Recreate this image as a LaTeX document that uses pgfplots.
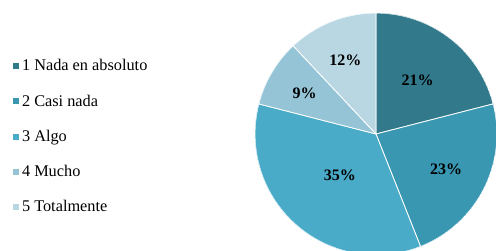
\documentclass[border=0pt]{standalone}
\usepackage{fontspec}
\setmainfont{Liberation Serif}
\usepackage{pgfplots}
\pgfplotsset{compat=1.18}
\usepgfplotslibrary{polar}
\definecolor{cA}{HTML}{32798C}
\definecolor{cB}{HTML}{3A97B2}
\definecolor{cC}{HTML}{4AABC9}
\definecolor{cD}{HTML}{94C4D6}
\definecolor{cE}{HTML}{B9D7E3}
\begin{document}
\begin{tikzpicture}
\useasboundingbox (0pt,0pt) rectangle (496pt,251pt);
% slices: 21, 23, 35, 9, 12 percent, clockwise from the top (1 percent = 3.6 degrees)
\begin{polaraxis}[
  at={(376pt,117pt)}, anchor=center,
  scale only axis, width=242pt, height=242pt,
  ymin=0, ymax=1, hide axis,
  legend style={at={(-1.004,0.49)}, anchor=west, draw=none, fill=none,
    font=\fontsize{16.3}{18}\selectfont, row sep=18.5pt, inner sep=0pt,
    legend cell align=left},
  legend image code/.code={\fill[#1] (0pt,-3.5pt) rectangle (7pt,3.5pt);},
]
\addplot[fill=cA, draw=white, line width=0.8pt, domain=14.4:90, samples=60] {1} -- (axis cs:0,0) -- cycle;
\addlegendentry{1 Nada en absoluto}
\addplot[fill=cB, draw=white, line width=0.8pt, domain=-68.4:14.4, samples=60] {1} -- (axis cs:0,0) -- cycle;
\addlegendentry{2 Casi nada}
\addplot[fill=cC, draw=white, line width=0.8pt, domain=-194.4:-68.4, samples=80] {1} -- (axis cs:0,0) -- cycle;
\addlegendentry{3 Algo}
\addplot[fill=cD, draw=white, line width=0.8pt, domain=-226.8:-194.4, samples=30] {1} -- (axis cs:0,0) -- cycle;
\addlegendentry{4 Mucho}
\addplot[fill=cE, draw=white, line width=0.8pt, domain=-270:-226.8, samples=30] {1} -- (axis cs:0,0) -- cycle;
\addlegendentry{5 Totalmente}
\begin{scope}[font=\fontsize{16}{18}\selectfont\bfseries]
\node at (axis cs:52.2,0.56) {21\%};
\node at (axis cs:-27,0.65) {23\%};
\node at (axis cs:-131.4,0.45) {35\%};
\node at (axis cs:150,0.68) {9\%};
\node at (axis cs:112.5,0.66) {12\%};
\end{scope}
\end{polaraxis}
\end{tikzpicture}
\end{document}
